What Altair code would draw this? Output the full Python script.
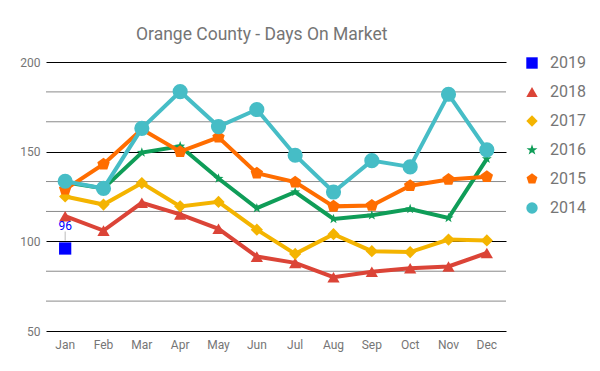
import altair as alt
import pandas as pd

months = ["Jan", "Feb", "Mar", "Apr", "May", "Jun", "Jul", "Aug", "Sep", "Oct", "Nov", "Dec"]
years = ["2019", "2018", "2017", "2016", "2015", "2014"]
y2014 = [133.5, 129.5, 163, 183.5, 164, 173.5, 148, 127.5, 145, 141.5, 182, 151]
y2015 = [129, 143, 162.5, 150, 158, 138, 133, 119.5, 120, 131, 134.5, 136]
y2016 = [133, 129.5, 149.5, 153, 135, 118.5, 127.5, 112.5, 114.5, 118, 113, 146]
y2017 = [125, 120.5, 132.5, 119.5, 122, 106.5, 93, 104, 94.5, 94, 101, 100.5]
y2018 = [114, 106, 121.5, 115, 107, 91.5, 88, 80, 83, 85, 86, 93.5]
y2019 = [96]
colors = ["#0000ff", "#db4437", "#f4b400", "#0f9d58", "#ff6d00", "#46bdc6"]
pentagon = "M0,-1L0.951,-0.309L0.588,0.809L-0.588,0.809L-0.951,-0.309Z"
star = "M0,-1L0.235,-0.324L0.951,-0.309L0.38,0.124L0.588,0.809L0,0.4L-0.588,0.809L-0.38,0.124L-0.951,-0.309L-0.235,-0.324Z"
shapes = ["square", "triangle-up", "diamond", star, pentagon, "circle"]
major_ticks = [50, 100, 150, 200]
minor_grid = [66.67, 83.33, 116.67, 133.33, 166.67, 183.33]

series = {"2014": y2014, "2015": y2015, "2016": y2016, "2017": y2017, "2018": y2018, "2019": y2019}
rows = []
for yr, vals in series.items():
    for m, v in zip(months, vals):
        rows.append({"year": yr, "month": m, "value": v})
df = pd.DataFrame(rows)

font = "Roboto"
grey = "#757575"

y_scale = alt.Scale(domain=[50, 200], nice=False, zero=False)
y_axis = alt.Axis(values=major_ticks, ticks=False, domain=False,
                  grid=True, gridColor="#000000", gridWidth=1, gridOpacity=1,
                  labelColor=grey, labelFont=font, labelFontSize=12, labelPadding=6)
x_enc = alt.X("month:N", sort=months, title=None,
              scale=alt.Scale(domain=months),
              axis=alt.Axis(labelAngle=0, ticks=False, domain=False, labelColor=grey,
                            labelFont=font, labelFontSize=12, labelPadding=8, grid=False))
y_enc = alt.Y("value:Q", title=None, scale=y_scale, axis=y_axis)
color_enc = alt.Color("year:N", scale=alt.Scale(domain=years, range=colors),
                      legend=alt.Legend(title=None, orient="none", legendX=478, legendY=-7,
                                        labelFont=font, labelFontSize=16, labelColor=grey,
                                        symbolSize=130, rowPadding=13, labelOffset=10,
                                        symbolStrokeWidth=0, padding=0))
shape_enc = alt.Shape("year:N", scale=alt.Scale(domain=years, range=shapes), legend=None)

grid_df = pd.DataFrame({"g": minor_grid})
minor = alt.Chart(grid_df).mark_rule(color="#8a8a8a", strokeWidth=1).encode(
    y=alt.Y("g:Q", title=None, scale=y_scale, axis=y_axis))

sizes = {"2019": 150, "2018": 150, "2017": 150, "2016": 110, "2015": 170, "2014": 230}
layers = [minor]
for yr in years:
    sub = df[df.year == yr]
    base = alt.Chart(sub)
    if len(sub) > 1:
        layers.append(base.mark_line(strokeWidth=4).encode(x=x_enc, y=y_enc, color=color_enc))
    layers.append(base.mark_point(filled=True, opacity=1, size=sizes[yr], strokeWidth=0).encode(
        x=x_enc, y=y_enc, color=color_enc, shape=shape_enc))

lab = df[df.year == "2019"]
layers.append(alt.Chart(lab).mark_rule(color="#bbbbbb", strokeWidth=1, yOffset=-8, y2Offset=-17).encode(
    x=x_enc, y=y_enc, y2="value:Q"))
layers.append(alt.Chart(lab).mark_text(color="#0000ff", font=font, fontSize=12, dy=-23).encode(
    x=x_enc, y=y_enc, text=alt.Text("value:Q", format="d")))

chart = alt.layer(*layers).properties(
    width=460, height=269,
    title=alt.TitleParams("Orange County - Days On Market", anchor="start", frame="group", dx=90, offset=12,
                          font=font, fontSize=17.5, fontWeight="normal", color=grey),
    autosize=alt.AutoSizeParams(type="none"),
    padding={"left": 38, "top": 54, "right": 86, "bottom": 32},
).configure_view(stroke=None)

chart.save("out.html", embed_options={"renderer": "svg", "actions": False})
